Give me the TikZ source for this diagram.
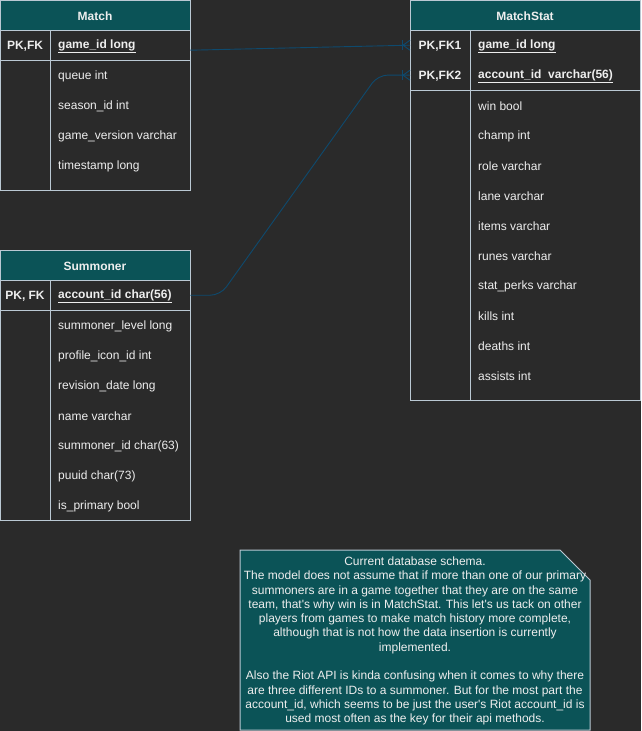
\documentclass[tikz,border=0pt]{standalone}
\usepackage{fontspec}
\setmainfont{Liberation Sans}[Ligatures=TeXOff]
\definecolor{bg}{HTML}{2A2A2A}
\definecolor{hdr}{HTML}{0B5357}
\definecolor{bord}{HTML}{BAC8D3}
\definecolor{txt}{HTML}{EEEEEE}
\definecolor{conn}{HTML}{0E4A6E}
\tikzset{
  tbody/.style={draw=bord, line width=1pt, fill=bg, inner sep=0pt, anchor=north west},
  thead/.style={draw=bord, line width=1pt, fill=hdr, inner sep=0pt, anchor=north west, text=txt, font=\bfseries\fontsize{12}{14}\selectfont},
  sep/.style={draw=bord, line width=1pt},
  fld/.style={anchor=west, inner sep=0pt, text=txt, font=\fontsize{12}{14}\selectfont},
  pkfld/.style={anchor=west, inner sep=0pt, text=txt, font=\bfseries\fontsize{12}{14}\selectfont},
  keyf/.style={anchor=center, inner sep=0pt, text=txt, font=\bfseries\fontsize{12}{14}\selectfont},
  rowc/.style={inner sep=0pt, anchor=north west, draw=none},
  rel/.style={draw=conn, line width=0.9pt},
  notebox/.style={draw=bord, line width=1pt, fill=hdr}
}
\begin{document}
\begin{tikzpicture}[x=1pt,y=-1pt]
\useasboundingbox (0,0) rectangle (641,731);
\fill[bg] (0,0) rectangle (641,731);

% ---------- Match ----------
\node[tbody, minimum width=190pt, minimum height=160pt] (matchbody) at (0,30) {};
\node[thead, minimum width=190pt, minimum height=30pt] (matchhead) at (0,0) {};
\node[keyf] (matchtitle) at (95,16) {Match};
\draw[sep] (0,60) -- (190,60);
\draw[sep] (50,30) -- (50,190);
\node[rowc, minimum width=190pt, minimum height=30pt] (matchpk) at (0,30) {};
\node[keyf] (matchpkl) at (25,46) {PK,FK};
\node[pkfld] (matchpkf) at (58,46) {\underline{game\_id long}};
\foreach [count=\i] \t in {queue int, season\_id int, game\_version varchar, timestamp long}
  \node[fld] (mf\i) at (58,46+30*\i) {\t};

% ---------- Summoner ----------
\node[tbody, minimum width=190pt, minimum height=240pt] (sumbody) at (0,280) {};
\node[thead, minimum width=190pt, minimum height=30pt] (sumhead) at (0,250) {};
\node[keyf] (sumtitle) at (95,266) {Summoner};
\draw[sep] (0,310) -- (190,310);
\draw[sep] (50,280) -- (50,520);
\node[rowc, minimum width=190pt, minimum height=30pt] (sumpk) at (0,280) {};
\node[keyf] (sumpkl) at (25,296) {PK, FK};
\node[pkfld] (sumpkf) at (58,296) {\underline{account\_id char(56)}};
\foreach [count=\i] \t in {summoner\_level long, profile\_icon\_id int, revision\_date long, name varchar, summoner\_id char(63), puuid char(73), is\_primary bool}
  \node[fld] (sf\i) at (58,296+30*\i) {\t};

% ---------- MatchStat ----------
\node[tbody, minimum width=230pt, minimum height=370pt] (msbody) at (410,30) {};
\node[thead, minimum width=230pt, minimum height=30pt] (mshead) at (410,0) {};
\node[keyf] (mstitle) at (525,16) {MatchStat};
\draw[sep] (410,90) -- (640,90);
\draw[sep] (470,30) -- (470,400);
\node[rowc, minimum width=230pt, minimum height=30pt] (mspk1) at (410,30) {};
\node[rowc, minimum width=230pt, minimum height=30pt] (mspk2) at (410,60) {};
\node[keyf] (mspk1l) at (440,46) {PK,FK1};
\node[keyf] (mspk2l) at (440,76) {PK,FK2};
\node[pkfld] (mspk1f) at (478,46) {\underline{game\_id long}};
\node[pkfld] (mspk2f) at (478,76) {\underline{account\_id\ \ varchar(56)}};
\foreach [count=\i] \t in {win bool, champ int, role varchar, lane varchar, items varchar, runes varchar, stat\_perks varchar, kills int, deaths int, assists int}
  \node[fld] (msf\i) at (478,76+30*\i) {\t};

% ---------- Relations ----------
\draw[rel] ([yshift=-5pt]matchpk.east) -- (mspk1.west);
\draw[rel, rounded corners=10pt] (sumpk.east) -- ++(30,0) -- (378,75) -- (mspk2.west);
\foreach \k in {mspk1, mspk2} {
  \draw[rel] ([xshift=-8pt,yshift=-5pt]\k.west) -- ([xshift=-8pt,yshift=5pt]\k.west);
  \draw[rel] ([xshift=-7pt]\k.west) -- ([yshift=-5pt]\k.west);
  \draw[rel] ([xshift=-7pt]\k.west) -- ([yshift=5pt]\k.west);
}

% ---------- Note ----------
\draw[notebox] (240,550) -- (560,550) -- (590,580) -- (590,730) -- (240,730) -- cycle;
\node[text=txt, align=center, inner sep=0pt, font=\fontsize{12}{14.3}\selectfont] (note) at (415,641) {%
Current database schema.\\
The model does not assume that if more than one of our primary\\
summoners are in a game together that they are on the same\\
team, that's why win is in MatchStat. This let's us tack on other\\
players from games to make match history more complete,\\
although that is not how the data insertion is currently\\
implemented.\\[14.3pt]
Also the Riot API is kinda confusing when it comes to why there\\
are three different IDs to a summoner. But for the most part the\\
account\_id, which seems to be just the user's Riot account\_id is\\
used most often as the key for their api methods.};
\end{tikzpicture}
\end{document}
